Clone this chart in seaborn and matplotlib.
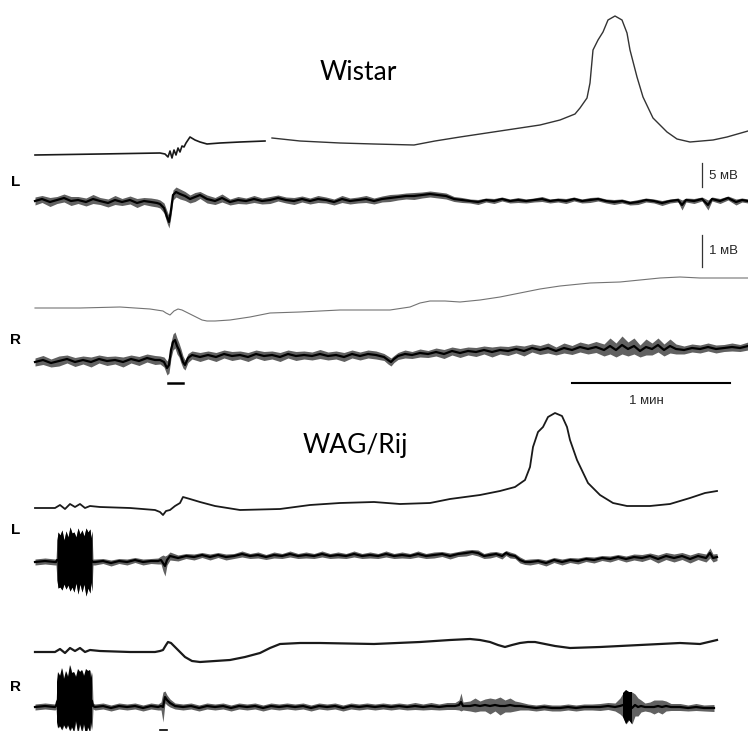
import numpy as np
import matplotlib
matplotlib.use("Agg")
import matplotlib.pyplot as plt
import seaborn as sns

# ---------------- DATA (x = time position, y = trace position) -------------
# Wistar, left hemisphere, slow (DC) potential: two segments (pen gap)
wl_dc_x1 = [35, 100, 160, 165, 168, 170, 172, 174, 176, 178, 180, 182, 184, 186, 190, 195, 200, 207, 220, 240, 265]
wl_dc_y1 = [155, 154, 153, 154, 157, 151, 158, 150, 155, 148, 152, 146, 147, 143, 137, 140, 142, 144, 143, 142, 141]
wl_dc_x2 = [272, 300, 340, 374, 414, 435, 460, 480, 500, 520, 540, 560, 575, 580, 587, 590, 593, 598, 603, 608,
            615, 622, 627, 630, 637, 643, 653, 667, 677, 690, 713, 727, 748]
wl_dc_y2 = [138, 141, 143, 144, 145, 141, 137, 134, 131, 128, 125, 120, 114, 108, 98, 83, 50, 40, 32, 20,
            16, 20, 33, 50, 77, 97, 118, 132, 139, 142, 140, 137, 131]

# Wistar, right hemisphere, slow potential
wr_dc_x = [35, 80, 120, 150, 163, 166, 170, 174, 178, 182, 186, 190, 196, 202, 207, 215, 230, 250, 270, 300,
           340, 374, 390, 410, 420, 430, 445, 460, 480, 500, 520, 540, 560, 590, 620, 640, 660, 680, 700, 720, 748]
wr_dc_y = [308, 308, 307, 309, 311, 313, 315, 311, 309, 310, 312, 314, 317, 320, 321, 321, 320, 317, 313, 312,
           310, 310, 310, 307, 303, 301, 301, 302, 300, 297, 293, 289, 286, 283, 282, 280, 278, 277, 278, 278, 278]

# WAG/Rij, left hemisphere, slow potential
gl_dc_x = [35, 55, 60, 65, 70, 75, 80, 85, 90, 100, 130, 155, 160, 163, 166, 170, 175, 180, 183, 190,
           200, 215, 240, 280, 310, 340, 374, 400, 430, 450, 480, 500, 515, 525, 530, 533, 538, 543, 548, 555,
           562, 567, 570, 577, 588, 600, 613, 627, 650, 670, 690, 705, 717]
gl_dc_y = [508, 508, 505, 509, 504, 507, 504, 508, 506, 507, 508, 510, 512, 515, 511, 510, 506, 503, 497, 499,
           502, 506, 510, 509, 505, 503, 502, 504, 503, 499, 495, 491, 487, 480, 467, 447, 432, 427, 417, 413,
           416, 427, 440, 460, 483, 495, 503, 506, 506, 504, 498, 493, 491]

# WAG/Rij, right hemisphere, slow potential
gr_dc_x = [35, 55, 60, 65, 70, 75, 80, 85, 90, 100, 130, 155, 160, 163, 166, 168, 171, 175, 180, 185,
           192, 200, 215, 230, 245, 260, 270, 280, 300, 320, 374, 420, 450, 470, 480, 490, 498, 505, 512, 520,
           528, 535, 545, 555, 570, 600, 640, 680, 700, 717]
gr_dc_y = [652, 652, 649, 653, 648, 651, 648, 652, 650, 651, 652, 652, 651, 650, 645, 642, 643, 647, 652, 657,
           661, 662, 661, 660, 657, 653, 648, 644, 643, 643, 644, 642, 640, 639, 640, 642, 645, 647, 645, 643,
           642, 642, 644, 646, 648, 647, 645, 643, 644, 640]

# EEG traces: (time position, centre of the pen trace, half-width of the noise band)
wl_eeg = [(35, 201, 4), (42, 199, 3.5), (50, 202, 4.5), (57, 200, 3.5), (64, 198, 4), (71, 201, 4.5), (78, 200, 3.5),
          (86, 202, 4), (93, 199, 4.5), (100, 201, 3.5), (108, 203, 4), (115, 200, 4.5), (122, 202, 3.5), (130, 200, 4),
          (137, 203, 4.5), (144, 201, 3.5), (151, 202, 4), (157, 203, 4), (160, 204, 4), (164, 208, 5), (167, 217, 6),
          (169, 222, 6), (171, 210, 6), (173, 195, 5), (176, 192, 5), (180, 194, 5), (185, 196, 4.5), (190, 199, 4),
          (195, 197, 4.5), (200, 195, 3.5), (207, 199, 4), (215, 201, 3.5), (222, 198, 4), (230, 202, 3), (238, 200, 3.5),
          (246, 201, 3), (254, 199, 3.5), (262, 201, 3), (270, 200, 3.5), (278, 198, 3), (286, 200, 3), (294, 201, 3.5),
          (302, 199, 3), (310, 201, 3), (318, 199, 3.5), (326, 200, 3), (334, 202, 3), (342, 199, 3.5), (350, 201, 3),
          (358, 200, 3), (366, 199, 3.5), (374, 201, 3), (382, 199, 3), (390, 198, 3.5), (398, 197, 3), (406, 196, 3),
          (414, 196, 3.5), (422, 195, 3), (430, 194, 3), (438, 195, 3), (446, 196, 3), (454, 199, 2.5), (462, 200, 2.5),
          (470, 201, 2), (478, 202, 2.5), (486, 200, 2), (494, 201, 2.5), (502, 199, 2), (510, 201, 2), (518, 200, 2.5),
          (526, 201, 2), (534, 200, 2), (542, 199, 2.5), (550, 201, 2), (558, 200, 2), (566, 201, 2.5), (574, 199, 2),
          (582, 201, 2), (590, 200, 2.5), (598, 199, 2), (606, 201, 2), (614, 202, 2.5), (622, 201, 2), (630, 203, 2),
          (638, 202, 2.5), (646, 200, 2), (654, 201, 2), (662, 203, 2.5), (670, 201, 2), (678, 200, 2), (682, 205, 5),
          (686, 200, 2), (694, 201, 2.5), (702, 199, 2), (708, 205, 5), (712, 199, 2), (720, 201, 2.5), (728, 198, 2),
          (736, 202, 3), (742, 200, 2), (748, 201, 2)]

wr_eeg = [(35, 362, 4), (43, 360, 4.5), (51, 363, 4), (59, 361, 5), (67, 359, 4), (75, 362, 4.5), (83, 360, 4),
          (91, 362, 5), (99, 359, 4), (107, 361, 4.5), (115, 360, 4), (123, 362, 5), (131, 359, 4), (139, 361, 4.5),
          (147, 358, 4), (155, 360, 4.5), (160, 360, 4), (164, 362, 5), (167, 368, 7), (169, 365, 8), (171, 350, 8),
          (173, 342, 8), (175, 340, 8), (177, 346, 8), (179, 350, 7), (181, 356, 7), (183, 362, 6), (185, 365, 5),
          (188, 358, 4.5), (192, 355, 4), (200, 357, 4.5), (208, 355, 4), (216, 357, 4.5), (224, 354, 4), (232, 356, 4.5),
          (240, 355, 4), (248, 357, 4.5), (256, 354, 4), (264, 356, 4.5), (272, 355, 4), (280, 357, 4.5), (288, 354, 4),
          (296, 356, 4.5), (304, 355, 4), (312, 356, 4), (320, 354, 4.5), (328, 356, 4), (336, 355, 4), (344, 357, 4.5),
          (352, 354, 4), (360, 356, 4), (368, 354, 4), (376, 355, 4), (384, 357, 3.5), (388, 360, 4), (391, 362, 4),
          (394, 359, 3.5), (398, 356, 3.5), (405, 354, 4), (412, 355, 3.5), (420, 353, 4), (428, 354, 3.5), (436, 352, 4),
          (444, 354, 4.5), (452, 351, 4), (460, 353, 4.5), (468, 351, 4), (476, 352, 4.5), (484, 350, 4), (492, 352, 5),
          (500, 350, 4), (508, 351, 4.5), (516, 349, 4), (524, 351, 5), (532, 348, 4), (540, 350, 4.5), (548, 348, 5),
          (556, 351, 4), (564, 348, 5), (572, 350, 4.5), (580, 347, 5), (588, 349, 5), (596, 347, 5.5), (604, 350, 6),
          (610, 346, 8), (616, 350, 7), (622, 345, 9), (628, 349, 7), (634, 346, 8), (640, 351, 6), (646, 347, 8),
          (652, 349, 6), (658, 345, 7), (664, 350, 6), (670, 346, 7), (676, 349, 5), (684, 350, 4), (692, 348, 4),
          (700, 349, 4), (708, 347, 4), (716, 349, 4), (724, 348, 3.5), (732, 347, 4), (740, 348, 3.5), (748, 346, 4)]

gl_eeg = [(35, 562, 3), (45, 561, 3), (55, 562, 3), (56, 562, 3), (57, 560, 20), (58, 560, 28), (60, 561, 26),
          (62, 560, 30), (64, 562, 22), (66, 560, 29), (68, 561, 24), (70, 559, 32), (72, 560, 27), (74, 562, 30),
          (76, 560, 23), (78, 561, 33), (80, 559, 25), (82, 561, 31), (84, 560, 24), (86, 562, 34), (88, 560, 28),
          (90, 561, 32), (91, 560, 22), (92, 561, 30), (93, 562, 3), (95, 562, 3), (103, 561, 2.5), (111, 563, 3),
          (119, 561, 2.5), (127, 562, 3), (135, 560, 2.5), (143, 562, 3), (151, 561, 2.5), (158, 561, 3), (161, 560, 4),
          (163, 563, 8), (165, 566, 10), (167, 560, 5), (170, 556, 4), (178, 558, 3), (186, 556, 2.5), (194, 557, 3),
          (202, 555, 2.5), (210, 557, 3), (218, 555, 2.5), (226, 557, 3), (234, 556, 2.5), (242, 554, 3), (250, 556, 2.5),
          (258, 555, 3), (266, 557, 2.5), (274, 555, 3), (282, 556, 2.5), (290, 554, 3), (298, 556, 2.5), (306, 555, 3),
          (314, 556, 2.5), (322, 554, 3), (330, 556, 2.5), (338, 555, 3), (346, 556, 2.5), (354, 554, 3), (362, 556, 2.5),
          (370, 555, 3), (378, 556, 2.5), (386, 554, 3), (394, 556, 2.5), (402, 555, 3), (410, 556, 2.5), (418, 554, 3),
          (426, 556, 2.5), (434, 555, 3), (442, 554, 2.5), (450, 556, 3), (458, 554, 2.5), (466, 553, 3), (472, 552, 2.5),
          (478, 553, 3), (484, 556, 2.5), (490, 555, 3), (496, 554, 2.5), (502, 556, 3), (506, 553, 2.5), (510, 555, 3),
          (515, 556, 2.5), (520, 560, 3), (525, 562, 2.5), (530, 562, 3), (538, 561, 2.5), (546, 563, 3), (554, 560, 2.5),
          (562, 562, 3), (570, 560, 2.5), (578, 561, 3), (586, 559, 2.5), (594, 560, 3), (602, 558, 2.5), (610, 559, 3),
          (618, 557, 2.5), (626, 559, 3), (634, 557, 3), (642, 558, 3.5), (650, 556, 3), (658, 559, 4), (666, 556, 3.5),
          (674, 558, 4), (682, 556, 3.5), (690, 559, 4), (698, 556, 3.5), (706, 558, 4), (710, 553, 5), (713, 558, 4),
          (717, 557, 3.5)]

gr_eeg = [(35, 707, 3), (45, 706, 3), (55, 707, 3), (56, 706, 3), (57, 702, 20), (58, 700, 28), (60, 701, 25),
          (62, 699, 31), (64, 702, 23), (66, 700, 29), (68, 701, 24), (70, 698, 33), (72, 700, 27), (74, 702, 30),
          (76, 699, 22), (78, 701, 32), (80, 698, 26), (82, 701, 31), (84, 700, 24), (86, 702, 33), (88, 699, 28),
          (90, 701, 31), (91, 700, 22), (92, 701, 29), (93, 706, 3), (95, 707, 3), (103, 706, 3), (111, 708, 3),
          (119, 706, 3), (127, 707, 3), (135, 706, 3), (143, 708, 3), (151, 706, 3), (158, 707, 3), (161, 706, 4),
          (163, 707, 15), (165, 697, 6), (167, 700, 5), (170, 703, 4), (175, 706, 3), (183, 707, 3), (191, 706, 3),
          (199, 708, 3), (207, 706, 3), (215, 707, 3), (223, 706, 3), (231, 708, 3), (239, 706, 3), (247, 707, 3),
          (255, 706, 3), (263, 708, 3), (271, 706, 3), (279, 707, 3), (287, 706, 3), (295, 707, 3), (303, 706, 3),
          (311, 708, 3), (319, 706, 3), (327, 707, 3), (335, 706, 3), (343, 708, 3), (351, 706, 3), (359, 707, 3),
          (367, 706, 3), (375, 707, 3), (383, 706, 3), (391, 707, 3), (399, 706, 3), (407, 707, 3), (415, 706, 3.5),
          (423, 707, 3), (431, 706, 3.5), (439, 707, 3), (447, 706, 3.5), (455, 706, 3.5), (459, 705, 5), (461, 702, 9),
          (463, 706, 4), (470, 706, 5), (475, 705, 7), (480, 706, 5), (485, 705, 6), (490, 706, 8), (495, 705, 6),
          (500, 706, 9), (505, 706, 6), (510, 705, 7), (515, 706, 5), (520, 706, 4), (528, 707, 3), (536, 708, 3),
          (544, 707, 3), (552, 708, 3), (560, 708, 3), (568, 707, 3), (576, 708, 3), (584, 707, 3), (592, 707, 3),
          (600, 707, 3.5), (608, 706, 3.5), (615, 707, 4), (620, 706, 8), (623, 705, 12), (626, 707, 17), (629, 706, 14),
          (632, 708, 16), (635, 705, 11), (638, 707, 9), (641, 706, 6), (645, 707, 4), (650, 707, 5), (654, 707, 7),
          (658, 706, 6), (662, 707, 7), (666, 706, 5), (671, 707, 3.5), (680, 707, 3.5), (688, 708, 3), (696, 707, 3.5),
          (704, 708, 3), (714, 708, 3.5)]

# stimulation marks and scale bars
stim_w_x = [168, 183]
stim_g_x = [160, 167]
bar_min_x = [572, 730]

# ---------------- FIGURE ----------------
W, H, DPI = 748, 731, 100
fig = plt.figure(figsize=(W / DPI, H / DPI), dpi=DPI, facecolor="white")
ax = fig.add_axes([0, 0, 1, 1])
ax.set_xlim(0, W)
ax.set_ylim(H, 0)
ax.axis("off")


def slow(x, y, color="black", lw=1.1):
    sns.lineplot(x=x, y=y, ax=ax, color=color, linewidth=lw, sort=False, estimator=None)


def eeg(points):
    arr = np.asarray(points, float)
    x, c, s = arr[:, 0], arr[:, 1], arr[:, 2]
    # background noise: grey fringe; high-amplitude discharges: solid black
    ax.fill_between(x, c - s, c + s, color="black", alpha=0.62, linewidth=0)
    ax.fill_between(x, c - s, c + s, where=s >= 12, interpolate=False, color="black", linewidth=0)
    sns.lineplot(x=x, y=c, ax=ax, color="black", linewidth=1.6, sort=False, estimator=None)


# Wistar
slow(wl_dc_x1, wl_dc_y1, "0.1", 1.2)
slow(wl_dc_x2, wl_dc_y2, "0.2", 1.0)
eeg(wl_eeg)
slow(wr_dc_x, wr_dc_y, "0.45", 0.8)
eeg(wr_eeg)

# WAG/Rij
slow(gl_dc_x, gl_dc_y, "0.1", 1.3)
eeg(gl_eeg)
slow(gr_dc_x, gr_dc_y, "0.1", 1.6)
eeg(gr_eeg)

# stimulation marks
ax.plot(stim_w_x, [383, 383], color="black", linewidth=1.8)
ax.plot(stim_g_x, [730, 730], color="black", linewidth=1.2)

# scale bars
ax.plot([702, 702], [163, 187], color="0.2", linewidth=0.9)
ax.plot([702, 702], [235, 267], color="0.2", linewidth=0.9)
ax.plot(bar_min_x, [383, 383], color="black", linewidth=1.5)

sans = ["Liberation Sans", "DejaVu Sans"]
ax.text(709, 176, "5 мВ", fontsize=9.5, family=sans, va="center", ha="left", color="0.15")
ax.text(709, 251, "1 мВ", fontsize=9.5, family=sans, va="center", ha="left", color="0.15")
ax.text(646, 401, "1 мин", fontsize=9.5, family=sans, va="center", ha="center", color="0.15")

# titles
ax.text(358, 73, "Wistar", fontsize=19, family=["Lato", "DejaVu Sans"], va="center", ha="center")
ax.text(355, 446, "WAG/Rij", fontsize=19, family=["Lato", "DejaVu Sans"], va="center", ha="center")

# hemisphere labels
for lab, yy in [("L", 182), ("R", 340), ("L", 530), ("R", 687)]:
    ax.text(16, yy, lab, fontsize=11, family=sans, fontweight="bold", va="center", ha="center")

fig.savefig("out.png", dpi=DPI, facecolor="white")
